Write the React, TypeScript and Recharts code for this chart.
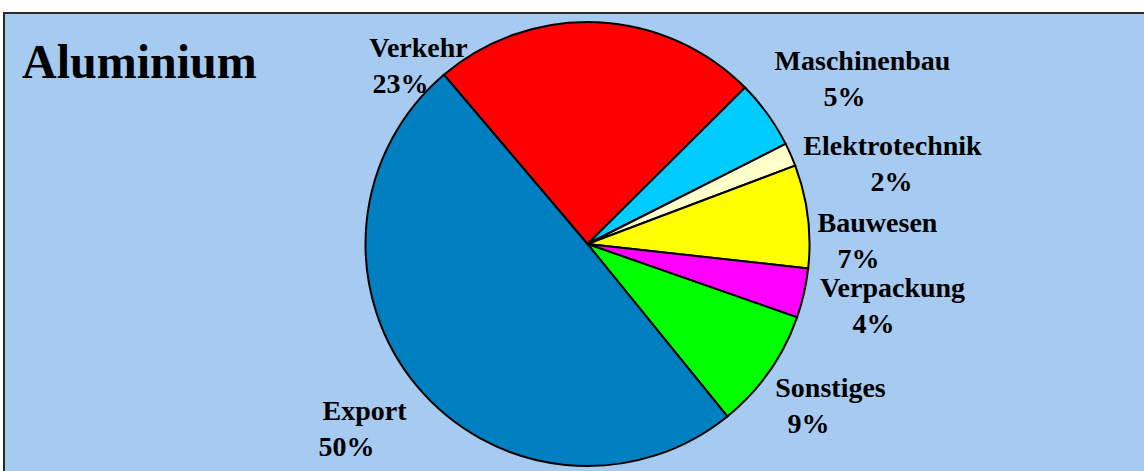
import { PieChart, Pie, Cell } from 'recharts';

// slice order runs clockwise from the Export/Verkehr boundary
const categories = ['Verkehr', 'Maschinenbau', 'Elektrotechnik', 'Bauwesen', 'Verpackung', 'Sonstiges', 'Export'];
const shares = [23.75, 5.0, 1.7, 7.5, 3.6, 8.8, 49.65];
const shareLabels = ['23%', '5%', '2%', '7%', '4%', '9%', '50%'];
const sliceColors = ['#FF0000', '#00CCFF', '#FFFFCC', '#FFFF00', '#FF00FF', '#00FF00', '#0080C0'];

const W = 1144;
const H = 471;
const CX = 587.5;
const CY = 244;
const START = 130.3;

// label placement relative to pie centre: name line (centre, baseline) and shift of the % line
const labelLayout: Record<string, { dx: number; dy: number; pdx: number }> = {
  Verkehr: { dx: -169, dy: -187, pdx: -18 },
  Maschinenbau: { dx: 275, dy: -174, pdx: -18 },
  Elektrotechnik: { dx: 305, dy: -89, pdx: -1 },
  Bauwesen: { dx: 290, dy: -12, pdx: -19 },
  Verpackung: { dx: 305, dy: 53, pdx: -19 },
  Sonstiges: { dx: 243, dy: 153, pdx: -22 },
  Export: { dx: -223, dy: 176, pdx: -18 },
};

const data = categories.map((name, i) => ({ name, value: shares[i], pct: shareLabels[i] }));

const font = "'Liberation Serif', 'Times New Roman', serif";

function SliceLabel(props: any) {
  const { cx, cy, index } = props;
  const name = categories[index];
  const l = labelLayout[name];
  const x = cx + l.dx;
  const y = cy + l.dy;
  return (
    <g>
      <text x={x} y={y} textAnchor="middle" fontFamily={font} fontWeight="bold" fontSize={28} fill="#000">
        {name}
      </text>
      <text x={x + l.pdx} y={y + 36} textAnchor="middle" fontFamily={font} fontWeight="bold" fontSize={28} fill="#000">
        {shareLabels[index]}
      </text>
    </g>
  );
}

export default function App() {
  return (
    <div style={{ position: 'absolute', left: 0, top: 0, width: W, height: H, overflow: 'hidden', background: '#fff' }}>
      <svg width={W} height={H} style={{ position: 'absolute', left: 0, top: 0 }}>
        <rect x={4} y={13} width={W} height={H} fill="#A6CAF0" stroke="#2a2a2a" strokeWidth={2} />
        <text x={22} y={78} fontFamily={font} fontWeight="bold" fontSize={48} fill="#000">
          Aluminium
        </text>
      </svg>
      <div style={{ position: 'absolute', left: 0, top: 0 }}>
        <PieChart width={W} height={H} margin={{ top: 0, right: 0, bottom: 0, left: 0 }}>
          <Pie
            data={data}
            dataKey="value"
            nameKey="name"
            cx={CX}
            cy={CY}
            outerRadius={222}
            startAngle={START}
            endAngle={START - 360}
            stroke="#000"
            strokeWidth={2}
            label={SliceLabel}
            labelLine={false}
            isAnimationActive={false}
          >
            {data.map((d, i) => (
              <Cell key={d.name} fill={sliceColors[i]} />
            ))}
          </Pie>
        </PieChart>
      </div>
    </div>
  );
}
